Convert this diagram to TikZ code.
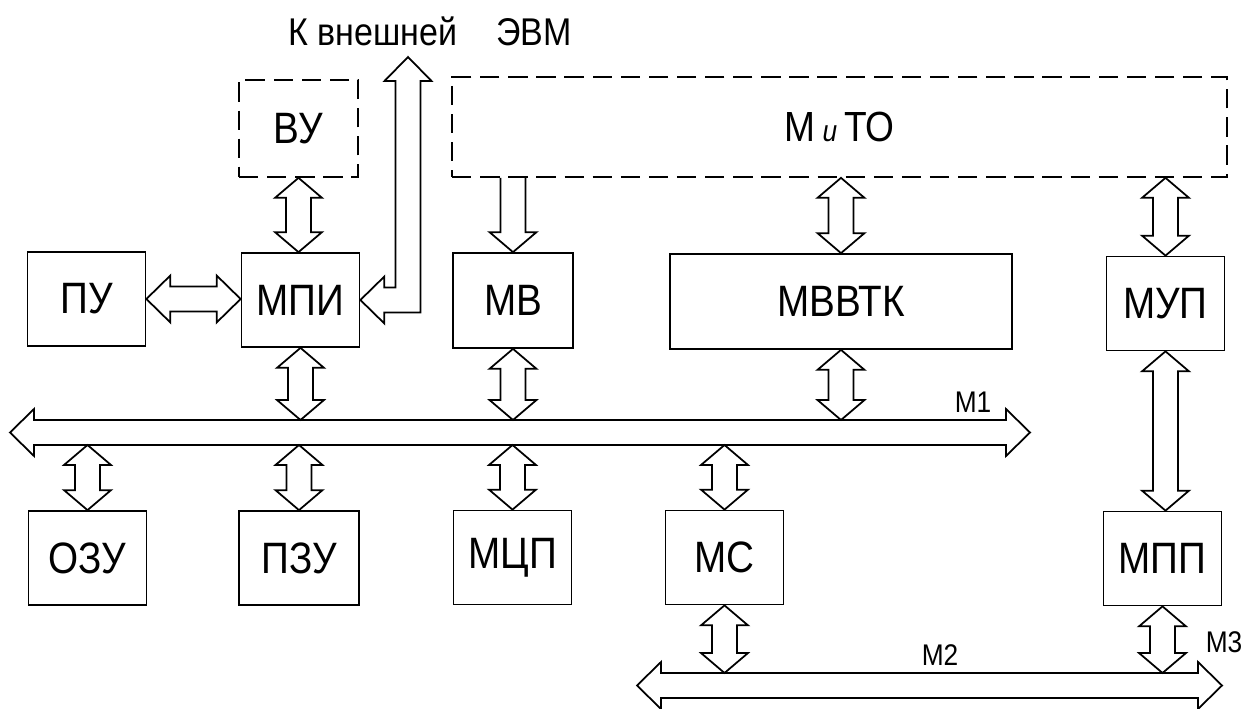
\documentclass[tikz,border=0pt]{standalone}
\usepackage{fontspec}
\setmainfont{Liberation Sans}[FakeStretch=0.88]
\usetikzlibrary{calc}
\newcommand\ahw{0.47cm}\newcommand\asw{0.25cm}\newcommand\ahv{0.4cm}\newcommand\ahh{0.48cm}
\newcommand\vdarrow[2]{\draw[fat]let\p1=(#1),\p2=(#2)in(\x1,\y1)--(\x1+\ahw,\y1-\ahv)--(\x1+\asw,\y1-\ahv)--(\x1+\asw,\y2+\ahv)--(\x1+\ahw,\y2+\ahv)--(\x1,\y2)--(\x1-\ahw,\y2+\ahv)--(\x1-\asw,\y2+\ahv)--(\x1-\asw,\y1-\ahv)--(\x1-\ahw,\y1-\ahv)--cycle;}
\newcommand\hdarrow[2]{\draw[fat]let\p1=(#1),\p2=(#2)in(\x1,\y1)--(\x1+\ahh,\y1+\ahw)--(\x1+\ahh,\y1+\asw)--(\x2-\ahh,\y1+\asw)--(\x2-\ahh,\y1+\ahw)--(\x2,\y1)--(\x2-\ahh,\y1-\ahw)--(\x2-\ahh,\y1-\asw)--(\x1+\ahh,\y1-\asw)--(\x1+\ahh,\y1-\ahw)--cycle;}
\newcommand\sdarrow[2]{\draw[fat]let\p1=(#1),\p2=(#2)in(\x1-\asw,\y1)--(\x1-\asw,\y2+\ahv)--(\x1-\ahw,\y2+\ahv)--(\x1,\y2)--(\x1+\ahw,\y2+\ahv)--(\x1+\asw,\y2+\ahv)--(\x1+\asw,\y1);}
\newcommand\extarrow[2]{\draw[fat]let\p1=(#1),\p2=(#2)in(\x1,\y1)--(\x1+\ahw,\y1-\ahh)--(\x1+\asw,\y1-\ahh)--(\x1+\asw,\y2-\asw)--(\x2+\ahh,\y2-\asw)--(\x2+\ahh,\y2-\ahw)--(\x2,\y2)--(\x2+\ahh,\y2+\ahw)--(\x2+\ahh,\y2+\asw)--(\x1-\asw,\y2+\asw)--(\x1-\asw,\y1-\ahh)--(\x1-\ahw,\y1-\ahh)--cycle;}
\begin{document}
\begin{tikzpicture}[x=.02cm,y=-.02cm,
blok/.style={draw,line width=1pt,minimum width=2.36cm,minimum height=1.88cm,inner sep=0pt,font=\fontsize{25}{28}\selectfont},
vneshn/.style={blok,dash pattern=on 11pt off 5pt},
fat/.style={line width=1pt,line join=miter},
metka/.style={font=\fontsize{17}{20}\selectfont}]
\useasboundingbox(0,0)rectangle(1251,709);
\node[font=\fontsize{22}{26}\selectfont](title)at(430,31){К внешней\quad ЭВМ};
\node[vneshn,minimum width=2.38cm,minimum height=1.94cm](vu)at(298.5,128.5){ВУ};
\node[vneshn,minimum width=15.5cm,minimum height=2cm,font=\fontsize{24}{28}\selectfont](mito)at(839.5,127){М\,{\fontsize{17}{17}\selectfont\itshape и}\,ТО};
\node[blok](pu)at(86.5,299){ПУ};
\node[blok](mpi)at(300.5,300){МПИ};
\node[blok,minimum width=2.4cm,minimum height=1.9cm](mv)at(513,300.5){МВ};
\node[blok,minimum width=6.84cm,minimum height=1.9cm](mvvtk)at(841,301.5){МВВТК};
\node[blok](myp)at(1165.5,303.5){МУП};
\node[blok](ozu)at(87.5,558){ОЗУ};
\node[blok,minimum width=2.4cm](pzu)at(299,558){ПЗУ};
\node[blok](mcp)at(512.5,557.5){МЦП};
\node[blok](ms)at(724.5,557.5){МС};
\node[blok](mpp)at(1162.5,558.5){МПП};
\coordinate(ext)at(408,57);
\coordinate(m1l)at(10,432.5);\coordinate(m1r)at(1030,432.5);
\coordinate(m1t)at(10,420);\coordinate(m1b)at(10,445);
\coordinate(m2l)at(637,685.5);\coordinate(m2r)at(1222,685.5);\coordinate(m2t)at(637,673);
\hdarrow{m1l}{m1r}\hdarrow{m2l}{m2r}
\hdarrow{pu.east}{mpi.west}
\extarrow{ext}{mpi.east}
\vdarrow{vu.south}{mpi.north}
\sdarrow{mv.north|-mito.south}{mv.north}
\vdarrow{mvvtk.north|-mito.south}{mvvtk.north}
\vdarrow{myp.north|-mito.south}{myp.north}
\vdarrow{myp.south}{mpp.north}
\foreach \b in {mpi,mv,mvvtk}{\vdarrow{\b.south}{\b.south|-m1t}}
\foreach \b in {ozu,pzu,mcp,ms}{\vdarrow{\b.north|-m1b}{\b.north}}
\foreach \b in {ms,mpp}{\vdarrow{\b.south}{\b.south|-m2t}}
\node[metka](lm1)at(973,402){М1};
\node[metka](lm2)at(940,655){М2};
\node[metka](lm3)at(1224,642){М3};
\end{tikzpicture}
\end{document}
